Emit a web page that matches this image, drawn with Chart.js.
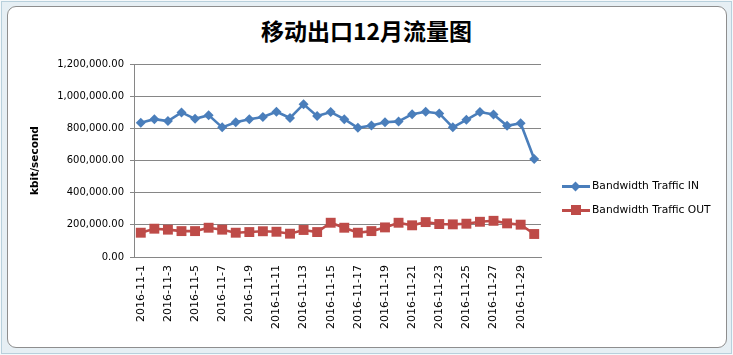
<!DOCTYPE html>
<html>
<head>
<meta charset="utf-8">
<script src="https://cdn.jsdelivr.net/npm/chart.js@4.4.1/dist/chart.umd.min.js"></script>
<style>
  html, body { margin: 0; padding: 0; width: 733px; height: 355px; overflow: hidden; background: #f5f9fb; }
  #outer { position: absolute; left: 1px; top: 1px; width: 729px; height: 351px; border: 1px solid #b8d0dc; background: #e6eff4; }
  #frame { position: absolute; left: 7px; top: 6px; width: 718px; height: 340px; border: 1px solid #8e8e8e; border-radius: 9px; background: #ffffff; }
  #c { position: absolute; left: 0; top: 0; }
  #title { position: absolute; left: 0; width: 733px; top: 13px; text-align: center; font-family: "Noto Sans CJK SC", sans-serif; font-weight: bold; font-size: 23px; color: #000; line-height: 34px; }
  .lg { position: absolute; left: 562px; height: 14px; font-family: "DejaVu Sans", sans-serif; font-size: 10.7px; color: #000; line-height: 14px; white-space: nowrap; }
  .lg .ln { position: absolute; left: 0; top: 6px; width: 28px; height: 3px; }
  .lg .mk { position: absolute; }
  .lg .tx { position: absolute; left: 30px; top: 0; }
</style>
</head>
<body>
<div id="outer"></div>
<div id="frame"></div>
<div id="title"></div>
<canvas id="c" width="733" height="355"></canvas>
<div id="legend"></div>
<script>
const chartTitle = "移动出口12月流量图";
const yAxisTitle = "kbit/second";
const categories = [
  "2016-11-1","2016-11-2","2016-11-3","2016-11-4","2016-11-5","2016-11-6","2016-11-7","2016-11-8","2016-11-9","2016-11-10",
  "2016-11-11","2016-11-12","2016-11-13","2016-11-14","2016-11-15","2016-11-16","2016-11-17","2016-11-18","2016-11-19","2016-11-20",
  "2016-11-21","2016-11-22","2016-11-23","2016-11-24","2016-11-25","2016-11-26","2016-11-27","2016-11-28","2016-11-29","2016-11-30"
];
const seriesNames = ["Bandwidth Traffic IN", "Bandwidth Traffic OUT"];
const trafficIn = [834000, 857000, 845000, 899000, 859000, 882000, 806000, 838000, 857000, 871000,
  903000, 865000, 950000, 876000, 901000, 857000, 803000, 818000, 838000, 843000,
  888000, 903000, 893000, 806000, 853000, 901000, 886000, 816000, 832000, 609000];
const trafficOut = [151000, 176000, 170000, 161000, 161000, 182000, 170000, 151000, 155000, 160000,
  157000, 145000, 168000, 155000, 213000, 182000, 151000, 161000, 184000, 213000,
  197000, 217000, 205000, 203000, 207000, 219000, 225000, 209000, 201000, 143000];
const yTicks = [0, 200000, 400000, 600000, 800000, 1000000, 1200000];

const colors = ["#4a7ebb", "#be4b48"];
const grid = "#868686";

document.getElementById("title").textContent = chartTitle;

const chart = new Chart(document.getElementById("c"), {
  type: "line",
  data: {
    labels: categories,
    datasets: [
      { label: seriesNames[0], data: trafficIn, borderColor: colors[0], backgroundColor: colors[0],
        borderWidth: 2.6, pointStyle: "rectRot", pointRadius: 5, pointBorderWidth: 0, pointBackgroundColor: colors[0], tension: 0 },
      { label: seriesNames[1], data: trafficOut, borderColor: colors[1], backgroundColor: colors[1],
        borderWidth: 2.6, pointStyle: "rect", pointRadius: 7, pointBorderWidth: 0, pointBackgroundColor: colors[1], tension: 0 }
    ]
  },
  options: {
    responsive: false,
    animation: false,
    events: [],
    layout: { padding: { left: 12, right: 192, top: 64, bottom: 6 } },
    plugins: { legend: { display: false }, title: { display: false }, tooltip: { enabled: false } },
    scales: {
      x: {
        offset: true,
        grid: { display: false, drawTicks: false },
        border: { display: true, color: grid, width: 1 },
        ticks: {
          autoSkip: false, maxRotation: 90, minRotation: 90, padding: 8, color: "#000",
          font: { family: "DejaVu Sans", size: 11 },
          callback: function (v, i) { return i % 2 === 0 ? categories[i] : ""; }
        },
        afterFit: function (s) { s.height = 355 - 257 - 6; }
      },
      y: {
        min: 0, max: 1200000,
        afterBuildTicks: function (s) { s.ticks = yTicks.map(v => ({ value: v })); },
        grid: { color: grid, lineWidth: 1, tickLength: 4, drawTicks: true },
        border: { display: true, color: grid, width: 1 },
        ticks: {
          color: "#000", padding: 6,
          font: { family: "DejaVu Sans", size: 10 },
          callback: function (v) { return Number(v).toLocaleString("en-US", { minimumFractionDigits: 2, maximumFractionDigits: 2 }); }
        },
        title: { display: true, text: yAxisTitle, color: "#000", font: { family: "DejaVu Sans", size: 10.5, weight: "bold" }, padding: { top: 17, bottom: 0 } },
        afterFit: function (s) { s.width = 134 - 12; }
      }
    }
  }
});

// HTML legend built from the datasets
const lg = document.getElementById("legend");
const rowsY = [179, 203];
chart.data.datasets.forEach(function (ds, i) {
  const d = document.createElement("div");
  d.className = "lg";
  d.style.top = rowsY[i] + "px";
  const ln = document.createElement("div");
  ln.className = "ln"; ln.style.background = ds.borderColor;
  const mk = document.createElement("div");
  mk.className = "mk"; mk.style.background = ds.borderColor;
  if (ds.pointStyle === "rectRot") {
    mk.style.width = "7px"; mk.style.height = "7px"; mk.style.left = "10px"; mk.style.top = "4px"; mk.style.transform = "rotate(45deg)";
  } else {
    mk.style.width = "10px"; mk.style.height = "10px"; mk.style.left = "9px"; mk.style.top = "2px";
  }
  const tx = document.createElement("div");
  tx.className = "tx"; tx.textContent = ds.label;
  d.appendChild(ln); d.appendChild(mk); d.appendChild(tx);
  lg.appendChild(d);
});
</script>
</body>
</html>
